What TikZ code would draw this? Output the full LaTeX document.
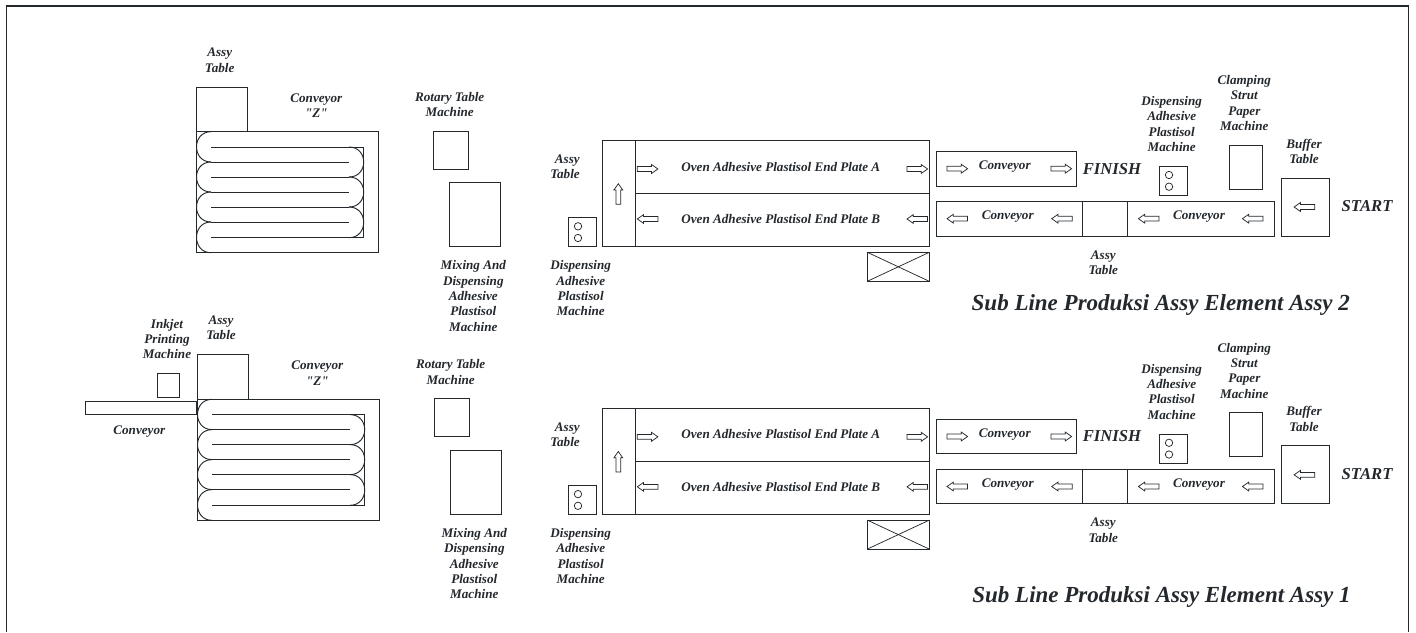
\documentclass[tikz,border=0pt]{standalone}
\usepackage{fontspec}
\setmainfont{Liberation Serif}[Ligatures=TeXOff]
\definecolor{ink}{HTML}{23282D}
\tikzset{
  lbl/.style={font=\bfseries\itshape\fontsize{9.85}{11.55}\selectfont,text=ink,align=center,inner sep=0pt},
  big/.style={font=\bfseries\itshape\fontsize{12.5}{14}\selectfont,text=ink,inner sep=0pt},
  ttl/.style={font=\bfseries\itshape\fontsize{17.25}{19}\selectfont,text=ink,inner sep=0pt},
  ln/.style={draw=ink,line width=0.7pt},
  thinln/.style={draw=ink,line width=0.55pt},
  pics/blk/.style={code={\draw[thinln,line join=miter] (-10.3,-2.4) -- (4,-2.4) -- (4,-4.4) -- (10.3,0) -- (4,4.4) -- (4,2.4) -- (-10.3,2.4) -- cycle;}}
}
% Z conveyor, rotary table, mixing machine
\newcommand{\zblock}[1]{%
  \draw[ln] (196.7,131.7) rectangle (378,252.7);
  \draw[ln] (196.7,87) rectangle (247,131.7);
  \draw[ln] (349,147) -- (363.7,147) -- (363.7,237.7) -- (349,237.7);
  \foreach \yy in {147,162,177,192,207,222,237.7}{\draw[ln] (211,\yy) -- (349,\yy);}
  \draw[ln] (196.7,252.7) -- (211,252.7);
  \foreach \yy/\zz in {131.7/162,162/192,192/222,222/252.7}{
    \draw[ln] (211,\yy) .. controls (191.7,\yy) and (191.7,\zz) .. (211,\zz);}
  \foreach \yy/\zz in {147/177,177/207,207/237.7}{
    \draw[ln] (349,\yy) .. controls (368.6,\yy) and (368.6,\zz) .. (349,\zz);}
  \draw[ln] (433,131) rectangle (468.7,169.3);
  \draw[ln] (449.7,182.7) rectangle (500.3,246.7);
  \node[lbl] (#1convz) at (316.3,105.5) {Conveyor\\"Z"};
  \node[lbl] (#1rotary) at (449.7,104.5) {Rotary Table\\Machine};
  \node[lbl] (#1mix) at (473.3,296) {Mixing And\\Dispensing\\Adhesive\\Plastisol\\Machine};
}
% oven, conveyors and machines of one sub line
\newcommand{\subline}[1]{%
  \draw[ln] (602,140.7) rectangle (929.3,246.7);
  \draw[ln] (635.3,140.7) -- (635.3,246.7);
  \draw[ln] (635.3,193.7) -- (929.3,193.7);
  \draw[ln] (568.3,217.7) rectangle (596.3,246.7);
  \draw[thinln] (578,226.3) circle[radius=3.7];
  \draw[thinln] (578,238) circle[radius=3.7];
  \draw[thinln] (867.3,252.3) rectangle (929.3,281.3);
  \draw[thinln] (867.3,252.3) -- (929.3,281.3);
  \draw[thinln] (867.3,281.3) -- (929.3,252.3);
  \pic at (647.6,169) {blk};
  \pic at (917.3,169) {blk};
  \pic[rotate=180] at (647.6,219) {blk};
  \pic[rotate=180] at (917.3,219) {blk};
  \pic[rotate=90] at (618.3,194) {blk};
  \draw[ln] (936.3,151.3) rectangle (1076,186);
  \draw[ln] (936.3,201.7) rectangle (1274,236);
  \draw[ln] (1082.7,201.7) -- (1082.7,236);
  \draw[ln] (1127.3,201.7) -- (1127.3,236);
  \pic at (957.3,168.7) {blk};
  \pic at (1061.3,168.7) {blk};
  \pic[rotate=180] at (957.3,218.7) {blk};
  \pic[rotate=180] at (1062,218.7) {blk};
  \pic[rotate=180] at (1148.7,218.7) {blk};
  \pic[rotate=180] at (1252.7,218.7) {blk};
  \draw[ln] (1159.3,166.3) rectangle (1187.3,195.3);
  \draw[thinln] (1169,175) circle[radius=3.7];
  \draw[thinln] (1169,186.7) circle[radius=3.7];
  \draw[ln] (1229,145) rectangle (1262.7,189);
  \draw[ln] (1281.7,178) rectangle (1329,236);
  \pic[rotate=180] at (1304.4,207) {blk};
  \node[lbl] (#1ovena) at (780.8,166.7) {Oven Adhesive Plastisol End Plate A};
  \node[lbl] (#1ovenb) at (780.8,219.3) {Oven Adhesive Plastisol End Plate B};
  \node[lbl,align=right,anchor=east] (#1assyl) at (580,166.7) {Assy\\Table};
  \node[lbl] (#1displ) at (580.7,288.3) {Dispensing\\Adhesive\\Plastisol\\Machine};
  \node[lbl] (#1conva) at (1004.7,167) {Conveyor};
  \node[lbl] (#1convb) at (1007.7,216.7) {Conveyor};
  \node[lbl] (#1convc) at (1199,216.7) {Conveyor};
  \node[big] (#1finish) at (1112,168.7) {FINISH};
  \node[big] (#1start) at (1367,206.3) {START};
  \node[lbl] (#1buffer) at (1304,151.2) {Buffer\\Table};
  \node[lbl] (#1dispr) at (1171.7,124) {Dispensing\\Adhesive\\Plastisol\\Machine};
  \node[lbl] (#1clamp) at (1244.3,103) {Clamping\\Strut\\Paper\\Machine};
  \node[lbl] (#1assym) at (1103.3,262.5) {Assy\\Table};
}
\begin{document}
\begin{tikzpicture}[x=0.75pt,y=-0.75pt]
\useasboundingbox (0,0) rectangle (1416,632);
\draw[ink,line width=0.9pt] (6.5,632) -- (6.5,6) -- (1408.5,6) -- (1408.5,632);
% upper line
\zblock{u}
\node[lbl] (uassy) at (219.7,60.3) {Assy\\Table};
\subline{u}
\node[ttl] (utitle) at (1160.8,305) {Sub Line Produksi Assy Element Assy 2};
% lower line
\begin{scope}[shift={(1,267.6)}]
\zblock{l}
\node[lbl] (lassy) at (220,60.3) {Assy\\Table};
\end{scope}
\draw[ln] (157,373.3) rectangle (179.3,397);
\draw[ln] (85.7,401.7) rectangle (196.3,414);
\node[lbl] (inkjet) at (167,339) {Inkjet\\Printing\\Machine};
\node[lbl] (lconvs) at (139.3,431.7) {Conveyor};
\begin{scope}[shift={(0,267.8)}]
\subline{l}
\end{scope}
\node[ttl] (ltitle) at (1161.5,597) {Sub Line Produksi Assy Element Assy 1};
\end{tikzpicture}
\end{document}
